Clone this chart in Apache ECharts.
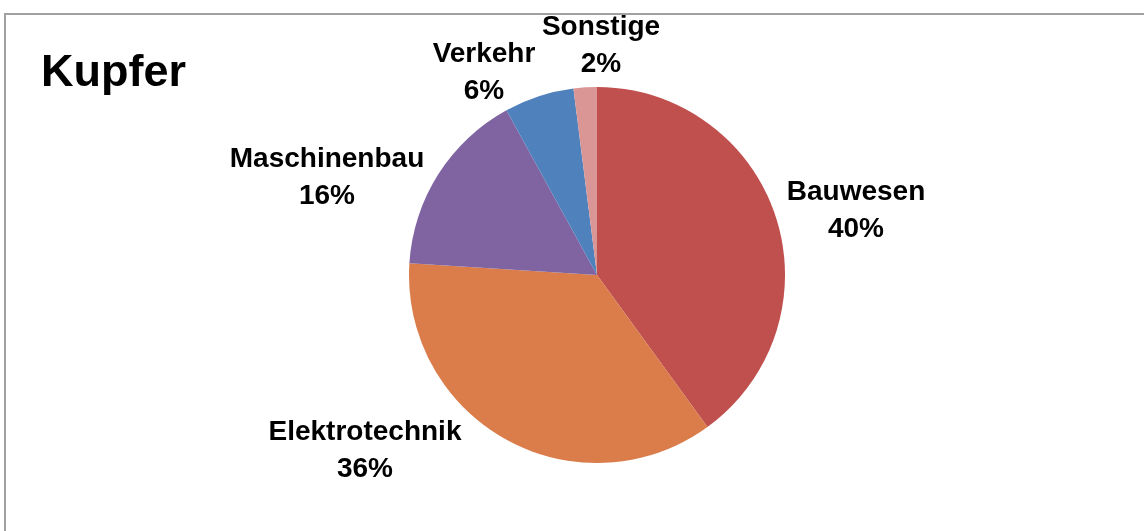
<!DOCTYPE html>
<html>
<head>
<meta charset="utf-8">
<script src="https://cdn.jsdelivr.net/npm/echarts@6/dist/echarts.min.js"></script>
<style>
  html, body { margin: 0; padding: 0; background: #fff; }
  #chart { width: 1144px; height: 531px; }
</style>
</head>
<body>
<div id="chart"></div>
<script>
    // Kupfer – Verwendung nach Sektoren (Anteile in %)
    var categories = ['Bauwesen', 'Elektrotechnik', 'Maschinenbau', 'Verkehr', 'Sonstige'];
    var shares     = [40, 36, 16, 6, 2];
    var colors     = ['#C0504D', '#DA7D4B', '#8064A2', '#4F81BD', '#D99694'];

    var cx = 597, cy = 275;
    // where Excel put each label, relative to the pie centre
    var labelOffsets = [[259, -64], [-232, 176], [-270, -97], [-113, -202], [4, -229]];

    var chart = echarts.init(document.getElementById('chart'));

    var pieData = categories.map(function (name, i) {
        return { name: name, value: shares[i], itemStyle: { color: colors[i] } };
    });

    var option = {
        backgroundColor: '#fff',
        animation: false,
        title: {
            text: 'Kupfer',
            left: 41,
            top: 51,
            padding: 0,
            textStyle: {
                fontFamily: 'Liberation Sans',
                fontSize: 45,
                fontWeight: 'bold',
                color: '#000'
            }
        },
        graphic: [
            {
                type: 'rect',
                shape: { x: 5, y: 14, width: 1300, height: 700 },
                style: { fill: 'none', stroke: '#a0a0a0', lineWidth: 2 },
                silent: true
            }
        ],
        series: [
            {
                type: 'pie',
                center: [cx, cy],
                radius: 188,
                startAngle: 90,
                clockwise: true,
                avoidLabelOverlap: false,
                data: pieData,
                itemStyle: { borderWidth: 0 },
                label: {
                    show: true,
                    position: 'outside',
                    formatter: function (p) { return p.name + '\n' + p.value + '%'; },
                    fontFamily: 'Liberation Sans',
                    fontSize: 28,
                    fontWeight: 'bold',
                    lineHeight: 37,
                    color: '#000',
                    align: 'center'
                },
                labelLine: { show: false },
                labelLayout: function (p) {
                    var o = labelOffsets[p.dataIndex];
                    return { x: cx + o[0], y: cy + o[1], align: 'center', verticalAlign: 'middle' };
                },
                emphasis: { disabled: true }
            }
        ]
    };

    chart.setOption(option);
</script>
</body>
</html>
